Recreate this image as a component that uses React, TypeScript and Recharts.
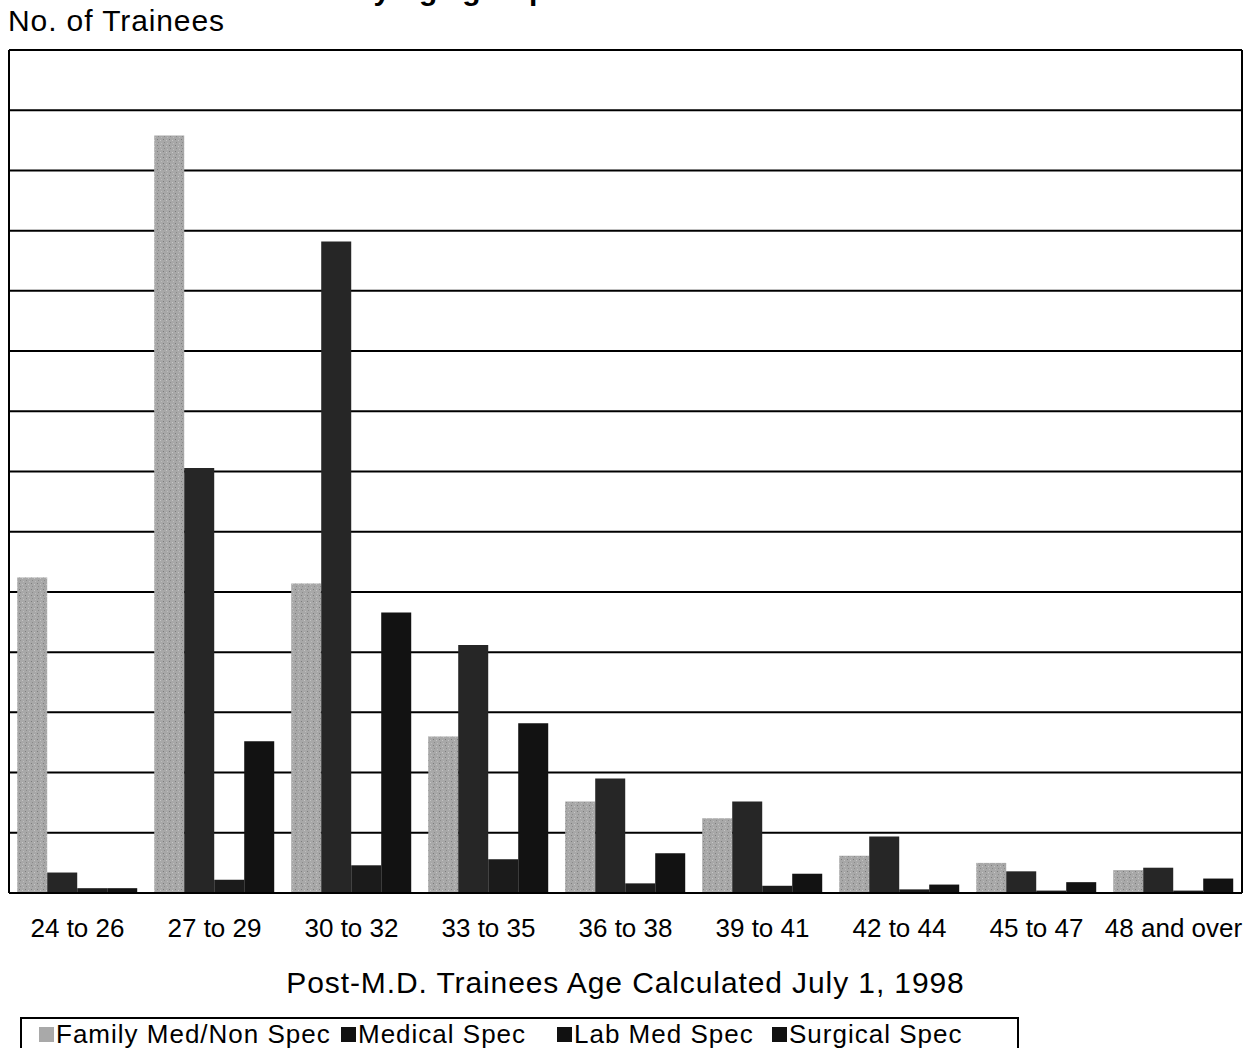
import { BarChart, Bar, XAxis, YAxis, CartesianGrid, Label } from "recharts";

const categories = [
  "24 to 26",
  "27 to 29",
  "30 to 32",
  "33 to 35",
  "36 to 38",
  "39 to 41",
  "42 to 44",
  "45 to 47",
  "48 and over",
];

const familyMed = [262, 629, 257, 130, 76, 62, 31, 25, 19];
const medicalSpec = [17, 353, 541, 206, 95, 76, 47, 18, 21];
const labMedSpec = [4, 11, 23, 28, 8, 6, 3, 2, 2];
const surgicalSpec = [4, 126, 233, 141, 33, 16, 7, 9, 12];

const yTicks = [0, 50, 100, 150, 200, 250, 300, 350, 400, 450, 500, 550, 600, 650, 700];

const series = [
  { key: "family", name: "Family Med/Non Spec", color: "url(#famTexture)", swatch: "#a9a9a9" },
  { key: "medical", name: "Medical Spec", color: "#262626", swatch: "#111" },
  { key: "lab", name: "Lab Med Spec", color: "#1b1b1b", swatch: "#111" },
  { key: "surgical", name: "Surgical Spec", color: "#121212", swatch: "#111" },
];

const legendWidths = [302, 216, 215, 200];

const data = categories.map((c, i) => ({
  age: c,
  family: familyMed[i],
  medical: medicalSpec[i],
  lab: labMedSpec[i],
  surgical: surgicalSpec[i],
}));

const FONT = '"Liberation Sans", Arial, Helvetica, sans-serif';

const NoTick = () => <g />;

export default function App() {
  return (
    <div
      style={{
        position: "absolute",
        left: 0,
        top: 0,
        width: 1247,
        height: 1048,
        overflow: "hidden",
        background: "#fff",
        fontFamily: FONT,
        color: "#000",
      }}
    >
      {/* title, mostly cut off by the top edge of the scan */}
      <div
        style={{
          position: "absolute",
          left: 225,
          top: -25,
          fontSize: 30,
          lineHeight: "30px",
          fontWeight: "bold",
          whiteSpace: "nowrap",
        }}
      >
        Trainees by Age group
      </div>
      <div
        style={{
          position: "absolute",
          left: 8,
          top: 5,
          fontSize: 30,
          lineHeight: "32px",
          letterSpacing: 0.9,
          whiteSpace: "nowrap",
        }}
      >
        No. of Trainees
      </div>

      <BarChart
        width={1247}
        height={1048}
        data={data}
        margin={{ top: 50, right: 4, left: 8, bottom: 50 }}
        barCategoryGap="6%"
        barGap={0}
        style={{ fontFamily: FONT }}
      >
        <defs>
          <pattern id="famTexture" width="6" height="6" patternUnits="userSpaceOnUse">
            <rect width="6" height="6" fill="#a8a8a8" />
            <rect x="1" y="1" width="1" height="1" fill="#7c7c7c" />
            <rect x="4" y="2" width="1" height="1" fill="#c6c6c6" />
            <rect x="2" y="4" width="1" height="1" fill="#8a8a8a" />
            <rect x="5" y="5" width="1" height="1" fill="#bdbdbd" />
          </pattern>
        </defs>
        <CartesianGrid vertical={false} stroke="#000" strokeWidth={2} strokeOpacity={1} />
        <XAxis
          dataKey="age"
          height={105}
          tickLine={false}
          tickMargin={20}
          axisLine={{ stroke: "#000", strokeWidth: 2 }}
          tick={{ fill: "#000", fontSize: 26, fontFamily: FONT }}
          interval={0}
        >
          <Label
            value="Post-M.D. Trainees Age Calculated July 1, 1998"
            position="insideBottom"
            offset={5}
            style={{ fill: "#000", fontSize: 30, fontFamily: FONT, letterSpacing: 0.9 }}
          />
        </XAxis>
        <YAxis
          width={1}
          domain={[0, 700]}
          ticks={yTicks}
          interval={0}
          tick={NoTick}
          tickLine={false}
          axisLine={{ stroke: "#000", strokeWidth: 2 }}
        />
        <YAxis
          yAxisId="right"
          orientation="right"
          width={1}
          domain={[0, 700]}
          ticks={yTicks}
          interval={0}
          tick={NoTick}
          tickLine={false}
          axisLine={{ stroke: "#000", strokeWidth: 2 }}
        />
        {series.map((s) => (
          <Bar
            key={s.key}
            dataKey={s.key}
            name={s.name}
            fill={s.color}
            isAnimationActive={false}
          />
        ))}
      </BarChart>

      <div
        style={{
          position: "absolute",
          left: 20,
          top: 1017,
          width: 978,
          height: 40,
          border: "2px solid #000",
          display: "flex",
          alignItems: "flex-start",
          paddingLeft: 17,
          fontSize: 26,
          lineHeight: "28px",
          letterSpacing: 1,
          whiteSpace: "nowrap",
        }}
      >
        {series.map((s, i) => (
          <div
            key={s.key}
            style={{
              display: "flex",
              alignItems: "center",
              width: legendWidths[i],
              paddingTop: 1,
            }}
          >
            <span
              style={{
                display: "inline-block",
                width: 15,
                height: 15,
                background: s.swatch,
                marginRight: 2,
              }}
            />
            <span>{s.name}</span>
          </div>
        ))}
      </div>
    </div>
  );
}
